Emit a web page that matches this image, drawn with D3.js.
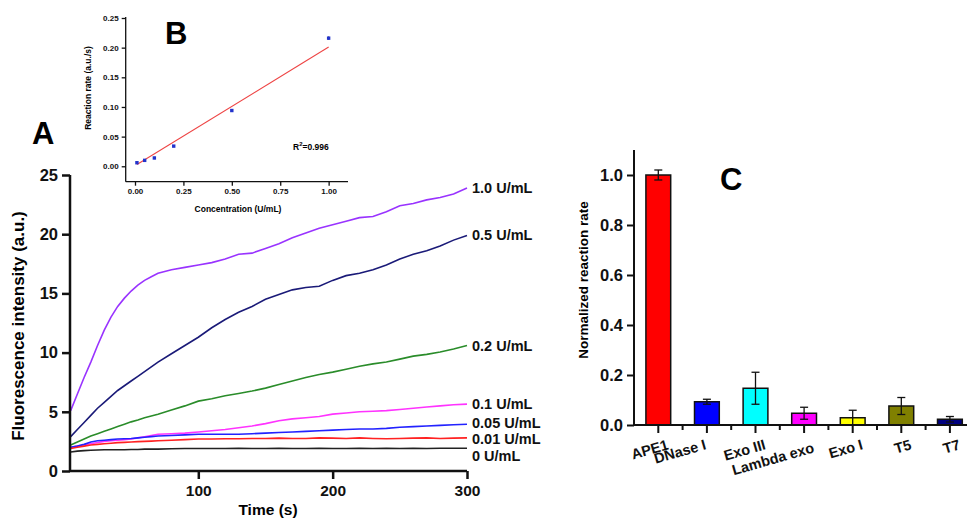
<!DOCTYPE html>
<html>
<head>
<meta charset="utf-8">
<script src="https://cdn.jsdelivr.net/npm/d3@7"></script>
<style>
  body { margin: 0; background: #fff; }
  text { font-family: 'Liberation Sans', Arial, sans-serif; font-weight: bold; }
</style>
</head>
<body>
<div id="chart"></div>
<script>
// panel A: fluorescence vs time
const times = [5, 10, 15, 20, 25, 30, 35, 40, 45, 50, 55, 60, 65, 70, 80, 90, 100, 110, 120, 130, 140, 150, 160, 170, 180, 190, 200, 210, 220, 230, 240, 250, 260, 270, 280, 290, 300]
const conc10 = [5.1, 6.5, 7.9, 9.2, 10.6, 11.9, 13.0, 13.9, 14.6, 15.2, 15.7, 16.1, 16.4, 16.7, 17.0, 17.2, 17.4, 17.6, 17.9, 18.3, 18.4, 18.8, 19.2, 19.7, 20.1, 20.5, 20.8, 21.1, 21.4, 21.5, 21.9, 22.4, 22.6, 22.9, 23.1, 23.4, 23.9]
const conc05 = [2.9, 3.5, 4.1, 4.7, 5.3, 5.8, 6.3, 6.8, 7.2, 7.6, 8.0, 8.4, 8.8, 9.2, 9.9, 10.6, 11.3, 12.1, 12.8, 13.4, 13.9, 14.5, 14.9, 15.3, 15.5, 15.6, 16.1, 16.5, 16.7, 17.0, 17.4, 17.9, 18.3, 18.6, 19.0, 19.5, 19.9]
const conc02 = [2.2, 2.45, 2.7, 2.95, 3.15, 3.35, 3.55, 3.75, 3.95, 4.15, 4.3, 4.5, 4.65, 4.8, 5.15, 5.5, 5.9, 6.1, 6.35, 6.55, 6.75, 7.0, 7.3, 7.6, 7.9, 8.15, 8.35, 8.6, 8.85, 9.05, 9.2, 9.45, 9.7, 9.85, 10.05, 10.3, 10.6]
const conc01 = [2.0, 2.1, 2.2, 2.3, 2.4, 2.5, 2.55, 2.6, 2.65, 2.7, 2.8, 2.9, 3.0, 3.1, 3.15, 3.2, 3.3, 3.4, 3.5, 3.65, 3.8, 4.0, 4.25, 4.4, 4.5, 4.6, 4.8, 4.9, 5.0, 5.05, 5.1, 5.2, 5.3, 5.4, 5.5, 5.6, 5.65]
const conc005 = [2.0, 2.1, 2.25, 2.45, 2.55, 2.6, 2.65, 2.7, 2.72, 2.75, 2.8, 2.85, 2.9, 2.95, 3.0, 3.05, 3.1, 3.1, 3.1, 3.1, 3.15, 3.2, 3.25, 3.3, 3.35, 3.4, 3.45, 3.5, 3.55, 3.55, 3.6, 3.7, 3.75, 3.8, 3.85, 3.9, 3.95]
const conc001 = [1.9, 2.0, 2.1, 2.2, 2.25, 2.3, 2.35, 2.4, 2.42, 2.45, 2.48, 2.5, 2.52, 2.55, 2.6, 2.65, 2.7, 2.7, 2.72, 2.72, 2.75, 2.75, 2.78, 2.75, 2.75, 2.8, 2.78, 2.75, 2.8, 2.75, 2.72, 2.75, 2.78, 2.8, 2.75, 2.78, 2.8]
const conc0 = [1.6, 1.68, 1.72, 1.75, 1.78, 1.8, 1.8, 1.8, 1.8, 1.82, 1.82, 1.85, 1.85, 1.85, 1.88, 1.9, 1.9, 1.9, 1.9, 1.92, 1.9, 1.9, 1.92, 1.9, 1.9, 1.92, 1.9, 1.9, 1.92, 1.9, 1.92, 1.9, 1.92, 1.9, 1.92, 1.92, 1.92]
const seriesLabels = ['1.0 U/mL', '0.5 U/mL', '0.2 U/mL', '0.1 U/mL', '0.05 U/mL', '0.01 U/mL', '0 U/mL']
const seriesColors = ['#9933ff', '#1a1a78', '#2a8c2a', '#ff33ff', '#2222ff', '#ff2222', '#222222']

// panel B: calibration inset
const bConc = [0.01, 0.05, 0.1, 0.2, 0.5, 1.0]
const bRate = [0.006, 0.010, 0.014, 0.034, 0.094, 0.216]
const bErr = [0.002, 0.001, 0.002, 0.001, 0.002, 0.003]
const fitSlope = 0.2
const fitIntercept = 0.001

// panel C: selectivity
const enzymes = ['APE1', 'DNase I', 'Exo III', 'Lambda exo', 'Exo I', 'T5', 'T7']
const normRate = [1.0, 0.093, 0.147, 0.047, 0.029, 0.076, 0.023]
const normErr = [0.02, 0.01, 0.064, 0.024, 0.03, 0.034, 0.011]
const barColors = ['#ff0000', '#0000ff', '#00ffff', '#ff00ff', '#ffff00', '#808000', '#000080']

const svg = d3
  .select('#chart')
  .append('svg')
  .attr('width', 967)
  .attr('height', 519)

// draws an axis with major + minor ticks
function drawAxis(g, axisFn, scale, major, minor, opts) {
  g.call(
    axisFn(scale)
      .tickValues(minor)
      .tickSize(opts.minorSize)
      .tickFormat('')
  )
  g.call(
    axisFn(scale)
      .tickValues(major)
      .tickSize(opts.majorSize)
      .tickPadding(opts.pad)
      .tickFormat(opts.format)
  )
  g.selectAll('path, line').attr('stroke', '#111').attr('stroke-width', opts.width)
  g.selectAll('text').attr('font-size', opts.font).attr('fill', '#111')
  g.selectAll('path').attr('d', opts.path)
}

/* ---------- panel A ---------- */
const xA = d3.scaleLinear().domain([4.5, 300]).range([70, 467])
const yA = d3.scaleLinear().domain([0, 25]).range([471, 175])

const gA = svg.append('g')

const allSeries = [conc10, conc05, conc02, conc01, conc005, conc001, conc0]

const line = d3
  .line()
  .x((d, i) => xA(times[i]))
  .y(d => yA(d))

gA.selectAll('.curve')
  .data(allSeries)
  .enter()
  .append('path')
  .attr('class', 'curve')
  .attr('d', line)
  .attr('fill', 'none')
  .attr('stroke', (d, i) => seriesColors[i])
  .attr('stroke-width', 1.6)

// labels at line ends, nudged apart where they crowd
const labelShift = [0, 0, 0, 0, -1, 1, 8]
gA.selectAll('.series-label')
  .data(allSeries)
  .enter()
  .append('text')
  .attr('x', xA(300) + 5)
  .attr('y', (d, i) => yA(d[d.length - 1]) + labelShift[i])
  .attr('dy', '0.35em')
  .attr('font-size', 14.5)
  .attr('fill', '#111')
  .text((d, i) => seriesLabels[i])

drawAxis(
  gA.append('g').attr('transform', 'translate(0,471)'),
  d3.axisBottom,
  xA,
  [100, 200, 300],
  [50, 150, 250],
  { majorSize: 8, minorSize: 4, pad: 6, font: 15.5, width: 2.5, format: d3.format('d'),
    path: 'M70,0H467' }
)
drawAxis(
  gA.append('g').attr('transform', 'translate(70,0)'),
  d3.axisLeft,
  yA,
  [0, 5, 10, 15, 20, 25],
  [2.5, 7.5, 12.5, 17.5, 22.5],
  { majorSize: 8, minorSize: 4, pad: 4, font: 16.5, width: 2.5, format: d3.format('d'),
    path: 'M0,471V175' }
)

gA.append('text')
  .attr('x', 268)
  .attr('y', 515)
  .attr('text-anchor', 'middle')
  .attr('font-size', 15.5)
  .text('Time (s)')

gA.append('text')
  .attr('transform', 'translate(24,326) rotate(-90)')
  .attr('text-anchor', 'middle')
  .attr('font-size', 17)
  .text('Fluorescence intensity (a.u.)')

gA.append('text')
  .attr('x', 32)
  .attr('y', 144)
  .attr('font-size', 31)
  .text('A')

/* ---------- panel B (inset) ---------- */
const xB = d3.scaleLinear().domain([-0.048, 1.1]).range([125.7, 348])
const yB = d3.scaleLinear().domain([-0.026, 0.25]).range([181.7, 18])

const gB = svg.append('g')

gB.append('line')
  .attr('x1', xB(0.01))
  .attr('y1', yB(fitIntercept + fitSlope * 0.01))
  .attr('x2', xB(1.0))
  .attr('y2', yB(fitIntercept + fitSlope * 1.0))
  .attr('stroke', '#ee4444')
  .attr('stroke-width', 1.1)

const pts = gB.selectAll('.pt')
  .data(bConc)
  .enter()
  .append('g')
  .attr('class', 'pt')

pts.append('line')
  .attr('x1', d => xB(d))
  .attr('x2', d => xB(d))
  .attr('y1', (d, i) => yB(bRate[i] - bErr[i]))
  .attr('y2', (d, i) => yB(bRate[i] + bErr[i]))
  .attr('stroke', '#222')
  .attr('stroke-width', 0.8)

pts.append('rect')
  .attr('x', d => xB(d) - 1.7)
  .attr('y', (d, i) => yB(bRate[i]) - 1.7)
  .attr('width', 3.4)
  .attr('height', 3.4)
  .attr('fill', '#2233cc')

drawAxis(
  gB.append('g').attr('transform', 'translate(0,181.7)'),
  d3.axisBottom,
  xB,
  [0, 0.25, 0.5, 0.75, 1.0],
  [0.125, 0.375, 0.625, 0.875, 1.05],
  { majorSize: 4, minorSize: 2.5, pad: 3, font: 8, width: 1.3, format: d3.format('.2f'),
    path: 'M125.7,0H348' }
)
drawAxis(
  gB.append('g').attr('transform', 'translate(125.7,0)'),
  d3.axisLeft,
  yB,
  [0, 0.05, 0.1, 0.15, 0.2, 0.25],
  [-0.025, 0.025, 0.075, 0.125, 0.175, 0.225],
  { majorSize: 4, minorSize: 2.5, pad: 3, font: 8, width: 1.3, format: d3.format('.2f'),
    path: 'M0,181.7V17' }
)

gB.append('text')
  .attr('x', 238)
  .attr('y', 212)
  .attr('text-anchor', 'middle')
  .attr('font-size', 8.5)
  .text('Concentration (U/mL)')

gB.append('text')
  .attr('transform', 'translate(91,88) rotate(-90)')
  .attr('text-anchor', 'middle')
  .attr('font-size', 8.5)
  .text('Reaction rate (a.u./s)')

const r2 = gB.append('text')
  .attr('x', 293)
  .attr('y', 150)
  .attr('font-size', 8.5)
r2.append('tspan').text('R')
r2.append('tspan').attr('dy', -4).attr('font-size', 6).text('2')
r2.append('tspan').attr('dy', 4).text('=0.996')

gB.append('text')
  .attr('x', 165)
  .attr('y', 44)
  .attr('font-size', 31)
  .text('B')

/* ---------- panel C ---------- */
const xC = d3.scaleBand()
  .domain(enzymes)
  .range([634, 634 + 7 * 48.6])
  .paddingInner(0.49)
  .paddingOuter(0.245)
const yC = d3.scaleLinear().domain([0, 1.1]).range([425, 150])

const gC = svg.append('g')

gC.selectAll('.bar')
  .data(enzymes)
  .enter()
  .append('rect')
  .attr('class', 'bar')
  .attr('x', d => xC(d))
  .attr('y', (d, i) => yC(normRate[i]))
  .attr('width', xC.bandwidth())
  .attr('height', (d, i) => yC(0) - yC(normRate[i]))
  .attr('fill', (d, i) => barColors[i])
  .attr('stroke', '#111')
  .attr('stroke-width', 1.5)

gC.selectAll('.err')
  .data(enzymes)
  .enter()
  .append('g')
  .attr('class', 'err')
  .attr('stroke', '#111')
  .attr('stroke-width', 1.3)
  .each(function(d, i) {
    const g = d3.select(this)
    const cx = xC(d) + xC.bandwidth() / 2
    const lo = yC(Math.max(0, normRate[i] - normErr[i]))
    const hi = yC(normRate[i] + normErr[i])
    g.append('line').attr('x1', cx).attr('x2', cx).attr('y1', lo).attr('y2', hi)
    g.append('line').attr('x1', cx - 4).attr('x2', cx + 4).attr('y1', hi).attr('y2', hi)
    g.append('line').attr('x1', cx - 4).attr('x2', cx + 4).attr('y1', lo).attr('y2', lo)
  })

drawAxis(
  gC.append('g').attr('transform', 'translate(634,0)'),
  d3.axisLeft,
  yC,
  [0, 0.2, 0.4, 0.6, 0.8, 1.0],
  [0.1, 0.3, 0.5, 0.7, 0.9, 1.1],
  { majorSize: 7, minorSize: 4, pad: 4, font: 16.5, width: 2, format: d3.format('.1f'),
    path: 'M0,425V150' }
)

// x axis of C: line, ticks at bar centres, short ticks between bars
const xAxisC = gC.append('g').attr('stroke', '#111').attr('stroke-width', 2)
xAxisC.append('line')
  .attr('x1', 634).attr('x2', 634 + 7 * 48.6)
  .attr('y1', 425).attr('y2', 425)
xAxisC.selectAll('.maj')
  .data(enzymes)
  .enter()
  .append('line')
  .attr('x1', d => xC(d) + xC.bandwidth() / 2)
  .attr('x2', d => xC(d) + xC.bandwidth() / 2)
  .attr('y1', 425)
  .attr('y2', 433)
xAxisC.selectAll('.min')
  .data(enzymes.slice(1))
  .enter()
  .append('line')
  .attr('x1', d => xC(d) + xC.bandwidth() / 2 - xC.step() / 2)
  .attr('x2', d => xC(d) + xC.bandwidth() / 2 - xC.step() / 2)
  .attr('y1', 425)
  .attr('y2', 430)

gC.selectAll('.cat-label')
  .data(enzymes)
  .enter()
  .append('text')
  .attr('text-anchor', 'end')
  .attr('font-size', 14.5)
  .attr('fill', '#111')
  .attr('transform', d => {
    const cx = xC(d) + xC.bandwidth() / 2 + (d === 'DNase I' ? 0 : 11)
    return `translate(${cx},${d === 'Lambda exo' ? 452 : 449}) rotate(-16)`
  })
  .text(d => d)

gC.append('text')
  .attr('transform', 'translate(588,280) rotate(-90)')
  .attr('text-anchor', 'middle')
  .attr('font-size', 13.5)
  .text('Normalized reaction rate')

gC.append('text')
  .attr('x', 720)
  .attr('y', 190)
  .attr('font-size', 31)
  .text('C')
</script>
</body>
</html>
